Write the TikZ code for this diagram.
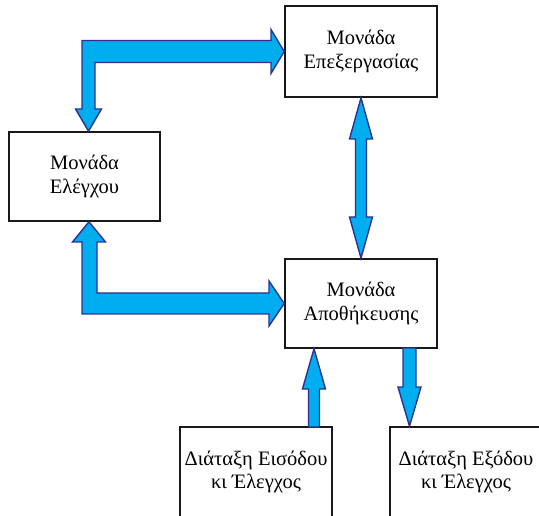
\documentclass[tikz,border=0pt]{standalone}
\usepackage{fontspec}
\setmainfont{Liberation Serif}
\usepackage{xcolor}
\usetikzlibrary{calc}
\definecolor{arrowfill}{RGB}{0,174,239}
\definecolor{arrowline}{RGB}{46,49,146}

\begin{document}
\begin{tikzpicture}[x=1pt,y=-1pt]
  \tikzset{
    unit/.style={draw=black!90, line width=1.6pt, minimum width=152pt, minimum height=90pt,
      inner sep=0pt, align=center, font=\fontsize{20.5}{23.5}\selectfont},
    flow/.style={draw=arrowline, fill=arrowfill, line width=1.4pt, line join=miter}
  }
  \useasboundingbox (0,0) rectangle (539,516);
  \clip (0,0) rectangle (539,516);

  % units
  \node[unit,minimum height=91pt] (proc) at (361,51.5) {Μονάδα\\Επεξεργασίας};
  \node[unit,minimum width=151pt,minimum height=89pt] (ctrl) at (84.5,176.5) {Μονάδα\\Ελέγχου};
  \node[unit,minimum height=89pt] (store) at (361,303.5) {Μονάδα\\Αποθήκευσης};
  \node[unit] (inp) at (256,472) {Διάταξη Εισόδου\\κι Έλεγχος};
  \node[unit] (outp) at (466,472) {Διάταξη Εξόδου\\κι Έλεγχος};

  % control <-> processing
  \draw[flow] (proc.west) -- (271,29.5) -- (271,40.5) -- (82,40.5) -- (82,109) -- (75.5,109)
    -- ($(ctrl.north)+(4,0)$) -- (101.5,109) -- (95,109) -- (95,62.5) -- (271,62.5)
    -- (271,73.5) -- cycle;

  % processing <-> storage
  \draw[flow] (proc.south) -- (372.5,139) -- (366.5,139) -- (366.5,217) -- (372.5,217)
    -- (store.north) -- (349.5,217) -- (355.5,217) -- (355.5,139) -- (349.5,139) -- cycle;

  % control <-> storage
  \draw[flow] ($(ctrl.south)+(4.5,0)$) -- (105.5,242) -- (97,242) -- (97,293) -- (269,293)
    -- (269,281) -- (store.west) -- (269,326) -- (269,314) -- (82,314) -- (82,242)
    -- (72.5,242) -- cycle;

  % input / output
  \draw[flow] ($(store.south)+(-47,0)$) -- (325.5,389) -- (319.5,389) -- (319.5,427)
    -- (308.5,427) -- (308.5,389) -- (302.5,389) -- cycle;
  \draw[flow] (403,348) -- (416,348) -- (416,387) -- (421,387) -- ($(outp.north)+(-56.5,0)$)
    -- (398,387) -- (403,387) -- cycle;
\end{tikzpicture}
\end{document}
